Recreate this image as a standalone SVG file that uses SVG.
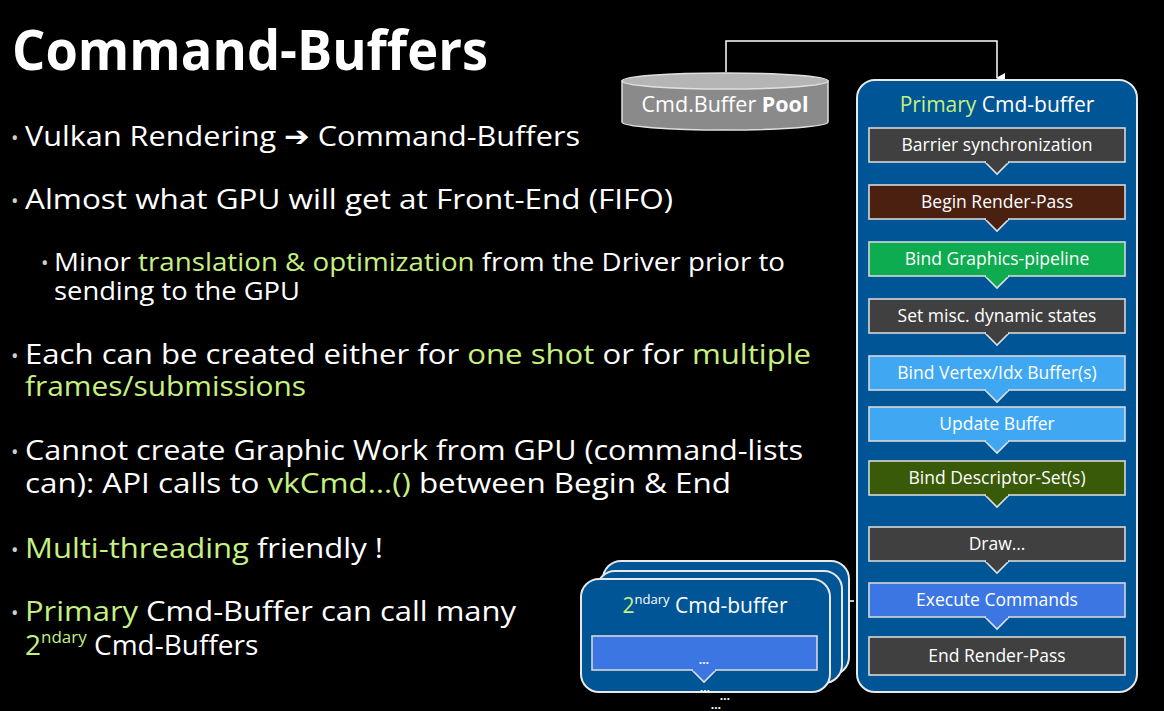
<svg xmlns="http://www.w3.org/2000/svg" width="1164" height="711" viewBox="0 0 1164 711">
<style>
.t{font-family:"Open Sans","DejaVu Sans",sans-serif;fill:#fff}
.b{font-size:28px}
.s{font-size:25px}
.g{fill:#c6f080}
.bl{font-size:20px;fill:#cfcfcf}
.lbl{font-family:"Open Sans","DejaVu Sans",sans-serif;font-size:17.5px;fill:#fff;text-anchor:middle}
.box{stroke:#d8d8d8;stroke-width:1.6}
.dk{fill:#404040}
.br{fill:#4a2111}
.gr{fill:#0dac50}
.lb{fill:#40a8f2}
.ol{fill:#395a08}
.eb{fill:#3b76e3}
.cont{fill:#005596;stroke:#e8e8e8;stroke-width:2}
.tri{stroke:#e0e0e0;stroke-width:1.6}
</style>
<defs>
<marker id="ah" markerWidth="10" markerHeight="10" refX="5" refY="8" orient="auto" markerUnits="userSpaceOnUse" viewBox="0 0 10 10">
<path d="M0,0 L10,0 L5,9 Z" fill="#fff"/>
</marker>
</defs>
<rect width="1164" height="711" fill="#000"/>

<g id="title">
<text class="t" x="12" y="70" font-size="56" font-weight="700" textLength="476" lengthAdjust="spacingAndGlyphs">Command-Buffers</text>
</g>

<g id="bullets">
<text class="t bl" x="11" y="145">•</text>
<text class="t b" x="25" y="146" textLength="555" lengthAdjust="spacingAndGlyphs">Vulkan Rendering <tspan font-family="DejaVu Sans">➔</tspan> Command-Buffers</text>
<text class="t bl" x="11" y="208">•</text>
<text class="t b" x="25" y="209" textLength="648" lengthAdjust="spacingAndGlyphs">Almost what GPU will get at Front-End (FIFO)</text>
<text class="t bl" x="41" y="270" font-size="16">•</text>
<text class="t s"><tspan x="54" y="271" textLength="731" lengthAdjust="spacingAndGlyphs">Minor <tspan class="g">translation &amp; optimization</tspan> from the Driver prior to</tspan><tspan x="54" y="300" textLength="246" lengthAdjust="spacingAndGlyphs">sending to the GPU</tspan></text>
<text class="t bl" x="11" y="363">•</text>
<text class="t b"><tspan x="25" y="364" textLength="786" lengthAdjust="spacingAndGlyphs">Each can be created either for <tspan class="g">one shot</tspan> or for <tspan class="g">multiple</tspan></tspan><tspan class="g" x="25" y="396" textLength="281" lengthAdjust="spacingAndGlyphs">frames/submissions</tspan></text>
<text class="t bl" x="11" y="459">•</text>
<text class="t b"><tspan x="25" y="460" textLength="778" lengthAdjust="spacingAndGlyphs">Cannot create Graphic Work from GPU (command-lists</tspan><tspan x="25" y="493" textLength="706" lengthAdjust="spacingAndGlyphs">can): API calls to <tspan class="g">vkCmd…()</tspan> between Begin &amp; End</tspan></text>
<text class="t bl" x="11" y="557">•</text>
<text class="t b" x="25" y="558" textLength="358" lengthAdjust="spacingAndGlyphs"><tspan class="g">Multi-threading</tspan> friendly !</text>
<text class="t bl" x="11" y="620">•</text>
<text class="t b"><tspan x="25" y="621" textLength="491" lengthAdjust="spacingAndGlyphs"><tspan class="g">Primary</tspan> Cmd-Buffer can call many</tspan><tspan class="g" x="25" y="655">2</tspan><tspan class="g" font-size="17" dy="-12">ndary</tspan><tspan dy="12"> Cmd-Buffers</tspan></text>
</g>

<g id="connectors" fill="none" stroke="#fff" stroke-width="1.5">
<path d="M726,72 V41 H997 V78" marker-end="url(#ah)"/>
<path d="M849,601 H869" stroke-dasharray="5,3"/>
<path d="M830,636 H847" stroke-dasharray="5,3"/>
</g>

<g id="pool">
<path d="M622,81 V122 A103,8 0 0 0 828,122 V81 Z" fill="#8a8a8a" stroke="#e0e0e0" stroke-width="1.5"/>
<ellipse cx="725" cy="81" rx="103" ry="8" fill="#b5b5b5" stroke="#e0e0e0" stroke-width="1.5"/>
<text class="t" x="725" y="112" font-size="21.5" text-anchor="middle">Cmd.Buffer <tspan font-weight="700">Pool</tspan></text>
</g>

<g id="primary">
<rect class="cont" x="857" y="80" width="280" height="612" rx="18"/>
<text class="t" x="997" y="112" font-size="21" text-anchor="middle"><tspan class="g">Primary</tspan> Cmd-buffer</text>
</g>

<g id="barrier">
<rect class="box dk" x="869" y="128" width="256" height="34"/>
<path class="tri dk" d="M985,162 L997,174 L1009,162"/><path d="M986,162 H1008" stroke="#404040" stroke-width="2.2"/>
<text class="lbl" x="997" y="151">Barrier synchronization</text>
</g>
<g id="beginrp">
<rect class="box br" x="869" y="185" width="256" height="34"/>
<path class="tri br" d="M985,219 L997,231 L1009,219"/><path d="M986,219 H1008" stroke="#4a2111" stroke-width="2.2"/>
<text class="lbl" x="997" y="208">Begin Render-Pass</text>
</g>
<g id="bindgp">
<rect class="box gr" x="869" y="242" width="256" height="34"/>
<path class="tri gr" d="M985,276 L997,288 L1009,276"/><path d="M986,276 H1008" stroke="#0dac50" stroke-width="2.2"/>
<text class="lbl" x="997" y="265">Bind Graphics-pipeline</text>
</g>
<g id="setmisc">
<rect class="box dk" x="869" y="299" width="256" height="34"/>
<path class="tri dk" d="M985,333 L997,345 L1009,333"/><path d="M986,333 H1008" stroke="#404040" stroke-width="2.2"/>
<text class="lbl" x="997" y="322">Set misc. dynamic states</text>
</g>
<g id="bindvb">
<rect class="box lb" x="869" y="356" width="256" height="34"/>
<path class="tri lb" d="M985,390 L997,402 L1009,390"/><path d="M986,390 H1008" stroke="#40a8f2" stroke-width="2.2"/>
<text class="lbl" x="997" y="379">Bind Vertex/Idx Buffer(s)</text>
</g>
<g id="update">
<rect class="box lb" x="869" y="407" width="256" height="34"/>
<path class="tri lb" d="M985,441 L997,453 L1009,441"/><path d="M986,441 H1008" stroke="#40a8f2" stroke-width="2.2"/>
<text class="lbl" x="997" y="430">Update Buffer</text>
</g>
<g id="binddesc">
<rect class="box ol" x="869" y="461" width="256" height="34"/>
<path class="tri ol" d="M985,495 L997,507 L1009,495"/><path d="M986,495 H1008" stroke="#395a08" stroke-width="2.2"/>
<text class="lbl" x="997" y="484">Bind Descriptor-Set(s)</text>
</g>
<g id="draw">
<rect class="box dk" x="869" y="527" width="256" height="34"/>
<path class="tri dk" d="M985,561 L997,573 L1009,561"/><path d="M986,561 H1008" stroke="#404040" stroke-width="2.2"/>
<text class="lbl" x="997" y="550">Draw…</text>
</g>
<g id="execute">
<rect class="box eb" x="869" y="583" width="256" height="34"/>
<path class="tri eb" d="M985,617 L997,629 L1009,617"/><path d="M986,617 H1008" stroke="#3b76e3" stroke-width="2.2"/>
<text class="lbl" x="997" y="606">Execute Commands</text>
</g>
<g id="endrp">
<rect class="box dk" x="869" y="637" width="256" height="38"/>
<text class="lbl" x="997" y="662">End Render-Pass</text>
</g>

<g id="secondary">
<rect class="cont" x="603" y="561" width="246" height="114" rx="18"/>
<rect class="cont" x="597" y="571" width="245" height="112" rx="18"/>
<rect class="cont" x="581" y="579" width="249" height="113" rx="18"/>
<text class="t" x="705" y="613" font-size="21" text-anchor="middle"><tspan class="g">2</tspan><tspan font-size="13" dy="-9">ndary</tspan><tspan dy="9"> Cmd-buffer</tspan></text>
<rect class="box eb" x="592" y="636" width="225" height="34"/>
<path class="tri eb" d="M692,670 L704,682 L716,670"/><path d="M693,670 H715" stroke="#3b76e3" stroke-width="2.2"/>
<text class="t" x="704" y="664" font-size="12" text-anchor="middle" font-weight="700">…</text>
<text class="t" x="705" y="692" font-size="12" text-anchor="middle" font-weight="700">…</text>
<text class="t" x="725" y="700" font-size="12" text-anchor="middle" font-weight="700">…</text>
<text class="t" x="716" y="709" font-size="12" text-anchor="middle" font-weight="700">…</text>
</g>
</svg>
